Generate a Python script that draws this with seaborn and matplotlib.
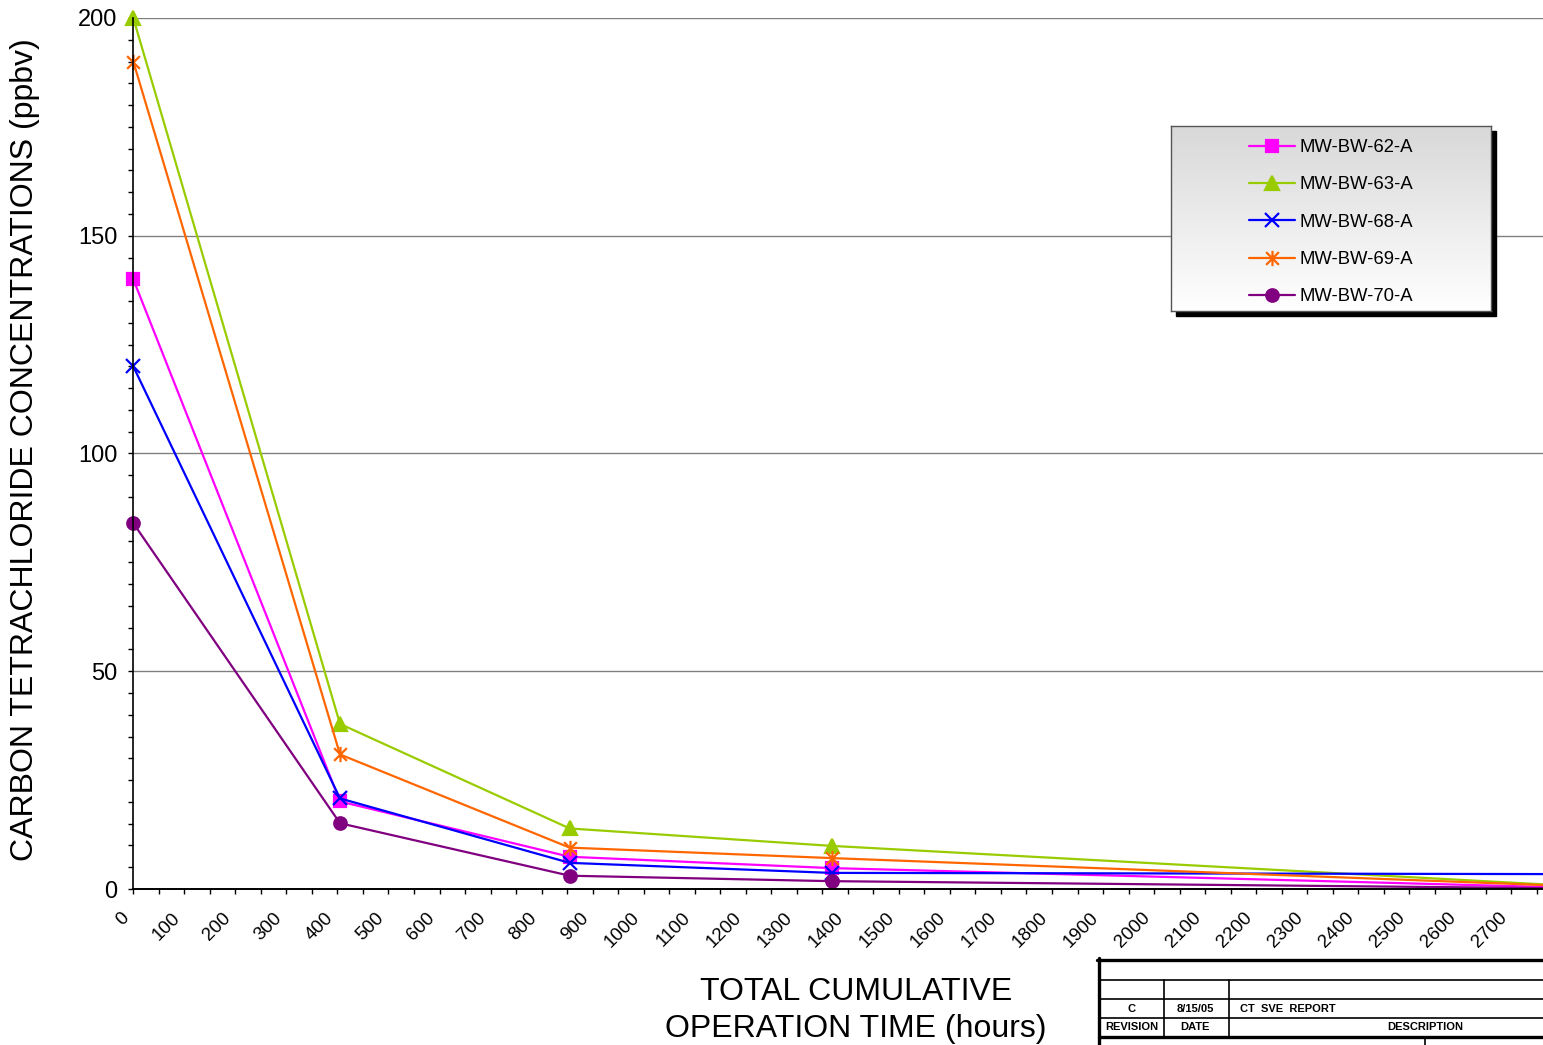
import numpy as np
import seaborn as sns
import matplotlib.pyplot as plt
from matplotlib.path import Path
from matplotlib.lines import Line2D
from matplotlib.patches import Rectangle
from matplotlib.colors import LinearSegmentedColormap
from matplotlib.ticker import MultipleLocator
from matplotlib.transforms import ScaledTranslation

# data (hours of operation vs ppbv)
hours = [0, 405, 855, 1368, 2900]
mw62 = [140, 20.1, 7.4, 4.8, 0.05]
mw63 = [200, 37.9, 13.9, 9.9, 0.2]
mw68 = [120, 20.8, 6.0, 3.7, 3.4]
mw69 = [190, 30.9, 9.5, 7.1, 0.3]
mw70 = [84, 15.1, 3.05, 1.8, 0.05]

wells = ["MW-BW-62-A", "MW-BW-63-A", "MW-BW-68-A", "MW-BW-69-A", "MW-BW-70-A"]
series = [mw62, mw63, mw68, mw69, mw70]
colors = ["#FF00FF", "#99CC00", "#0000FF", "#FF6600", "#800080"]

# excel style asterisk: an x plus a vertical bar
star = Path([(-0.5, -0.5), (0.5, 0.5), (-0.5, 0.5), (0.5, -0.5), (0, -0.6), (0, 0.6)],
            [Path.MOVETO, Path.LINETO, Path.MOVETO, Path.LINETO, Path.MOVETO, Path.LINETO])
markers = ["s", "^", "x", star, "o"]
msizes = [9, 10.5, 9.5, 11, 9]

sns.set_style("ticks")
plt.rcParams["font.family"] = ["Liberation Sans", "DejaVu Sans"]
plt.rcParams["text.color"] = "black"
plt.rcParams["axes.labelcolor"] = "black"
plt.rcParams["xtick.color"] = "black"
plt.rcParams["ytick.color"] = "black"

W, H = 1543, 1045
fig = plt.figure(figsize=(W / 100, H / 100), dpi=100)
ax = fig.add_axes([133.3 / W, 1 - 889 / H, 1 - 133.3 / W, 871 / H])

for name, vals, c, m, s in zip(wells, series, colors, markers, msizes):
    sns.lineplot(x=hours, y=vals, ax=ax, color=c, marker=m, markersize=s,
                 markeredgecolor=c, markeredgewidth=1.6, linewidth=1.6,
                 label=name, clip_on=False)

ax.get_legend().remove()
ax.set_xlim(0, 2762)
ax.set_ylim(0, 200)
ax.xaxis.set_major_locator(MultipleLocator(100))
ax.xaxis.set_minor_locator(MultipleLocator(50))
ax.yaxis.set_major_locator(MultipleLocator(50))
ax.yaxis.set_minor_locator(MultipleLocator(5))
ax.tick_params(axis="both", which="both", direction="out", length=3.5, width=1, color="black")
ax.tick_params(axis="y", labelsize=17, pad=8)
ax.tick_params(axis="x", labelsize=13.5, pad=7)
shift = ScaledTranslation(-13 / 100, -6 / 100, fig.dpi_scale_trans)
for lab in ax.get_xticklabels():
    lab.set_rotation(45)
    lab.set_ha("right")
    lab.set_va("top")
    lab.set_rotation_mode("anchor")
    lab.set_transform(lab.get_transform() + shift)

ax.grid(axis="y", which="major", color="#808080", linewidth=1)
ax.set_axisbelow(True)
for side in ["top", "right"]:
    ax.spines[side].set_visible(False)
ax.spines["left"].set_linewidth(1.2)
ax.spines["bottom"].set_linewidth(1.4)
ax.spines["left"].set_color("black")
ax.spines["bottom"].set_color("black")

ax.set_ylabel("CARBON TETRACHLORIDE CONCENTRATIONS (ppbv)", fontsize=23)
ax.yaxis.set_label_coords(-0.066, 0.505)
ax.set_xlabel("TOTAL CUMULATIVE\nOPERATION TIME (hours)", fontsize=23, linespacing=1.32)
ax.xaxis.set_label_coords((856 - 133.3) / 1409.7, -0.101)

# legend box with grey gradient and solid shadow
fig.add_artist(Rectangle((1176 / W, 1 - 316 / H), 320 / W, 185 / H,
                         transform=fig.transFigure, color="black", zorder=1.5))
lax = fig.add_axes([1171 / W, 1 - 311 / H, 320 / W, 185 / H])
lax.set_zorder(2)
grad = np.linspace(0, 1, 256).reshape(-1, 1)
cmap = LinearSegmentedColormap.from_list("g", ["#d8d8d8", "#ffffff"])
lax.imshow(grad, cmap=cmap, aspect="auto", extent=[0, 1, 0, 1])
lax.set_xticks([])
lax.set_yticks([])
for sp in lax.spines.values():
    sp.set_color("#555555")
    sp.set_linewidth(1)
handles, labels = ax.get_legend_handles_labels()
lax.legend(handles, labels, loc="center", bbox_to_anchor=(0.5, 0.48), frameon=False,
           fontsize=13.3, handlelength=2.5, handletextpad=0.25, labelspacing=1.1)

# revision block in the lower right corner
def hline(y, x0, x1, lw):
    fig.add_artist(Line2D([x0 / W, x1 / W], [1 - y / H, 1 - y / H], color="black", lw=lw))

def vline(x, y0, y1, lw):
    fig.add_artist(Line2D([x / W, x / W], [1 - y0 / H, 1 - y1 / H], color="black", lw=lw))

hline(960, 1097, W, 2.4)
vline(1099, 958, H, 2.4)
hline(980, 1099, W, 1.2)
hline(999, 1099, W, 1.2)
hline(1018, 1099, W, 1.2)
hline(1037, 1099, W, 2.4)
vline(1164, 980, 1037, 1.2)
vline(1229, 980, 1037, 1.2)
vline(1425, 1037, H, 1.2)

def blk(x, y, s, ha="center"):
    fig.text(x / W, 1 - y / H, s, ha=ha, va="center", fontsize=8, weight="bold")

blk(1132, 1009, "C")
blk(1195, 1009, "8/15/05")
blk(1240, 1009, "CT  SVE  REPORT", ha="left")
blk(1132, 1027, "REVISION")
blk(1195, 1027, "DATE")
blk(1425, 1027, "DESCRIPTION")

fig.savefig("out.png", dpi=100)
